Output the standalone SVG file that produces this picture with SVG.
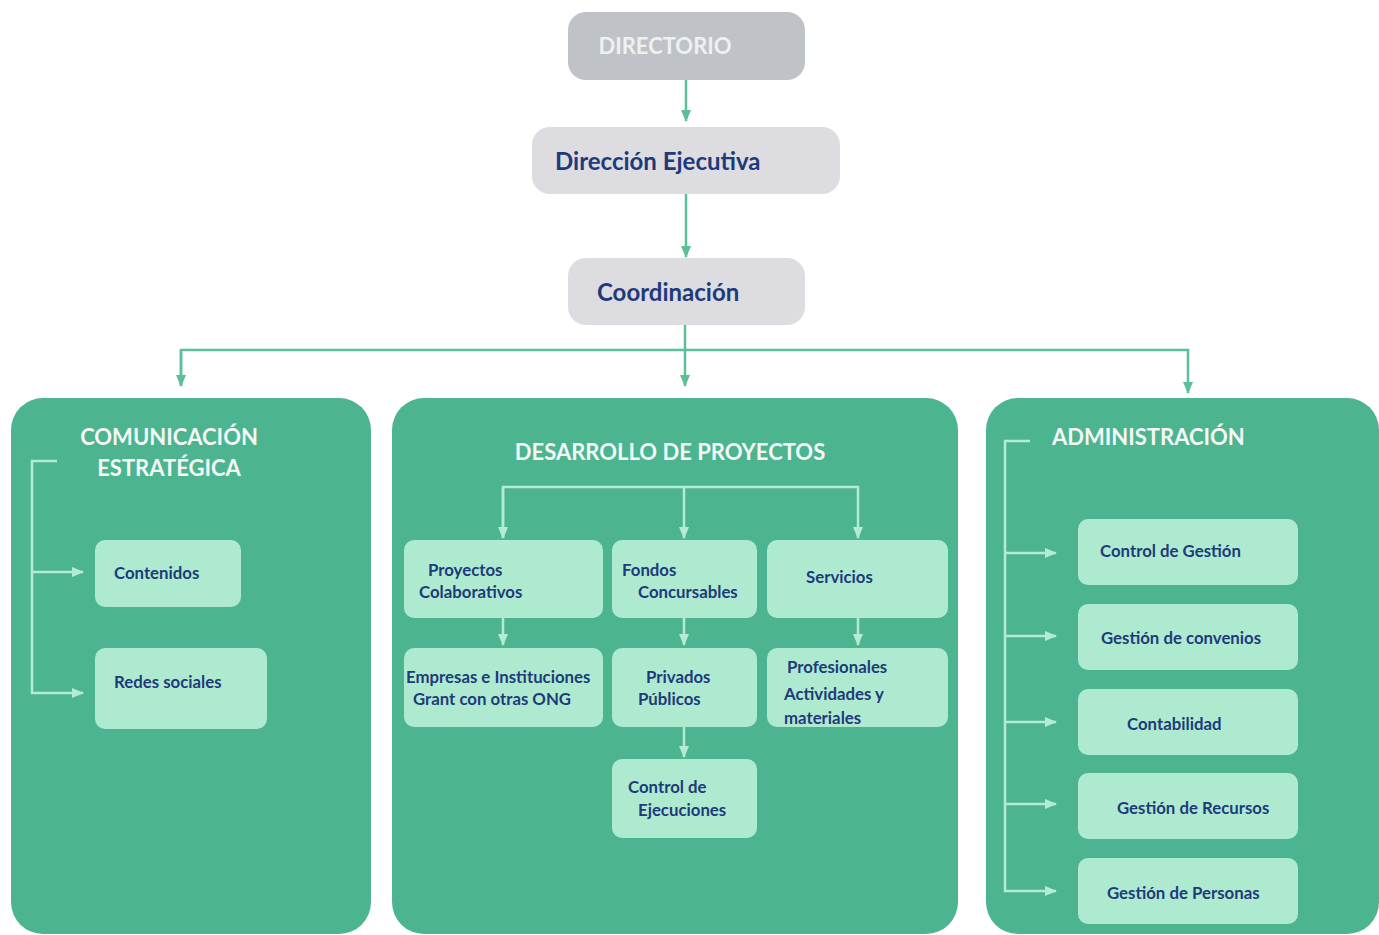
<svg xmlns="http://www.w3.org/2000/svg" width="1379" height="935" viewBox="0 0 1379 935">
<defs>
<marker id="ah" viewBox="0 0 12 10" refX="11" refY="5" markerWidth="12" markerHeight="10" markerUnits="userSpaceOnUse" orient="auto"><path d="M0,0 L12,5 L0,10 Z" fill="#5cbf97"/></marker>
<marker id="al" viewBox="0 0 12 10" refX="11" refY="5" markerWidth="12" markerHeight="10" markerUnits="userSpaceOnUse" orient="auto"><path d="M0,0 L12,5 L0,10 Z" fill="#b4ecd3"/></marker>
<style>
.panel{fill:#4cb590}
.box{fill:#aeead0}
.g1{fill:#bfc3c7}
.g2{fill:#dcdce1}
.t{font-family:Lato,"Open Sans","Liberation Sans",sans-serif;font-weight:700;fill:#1e3a7a;font-size:16.8px}
.big{font-family:Lato,"Open Sans","Liberation Sans",sans-serif;font-weight:700;fill:#1e3a7a;font-size:24px}
.ht{font-family:Lato,"Open Sans","Liberation Sans",sans-serif;font-weight:700;fill:#f4f7f6;font-size:22px}
.c{fill:none;stroke:#5cbf97;stroke-width:2.5}
.cl{fill:none;stroke:#b4ecd3;stroke-width:2.5}
</style>
</defs>
<rect width="1379" height="935" fill="#ffffff"/>

<g id="directorio"><rect class="g1" x="568" y="12" width="237" height="68" rx="18"/><text class="ht" x="665" y="54" text-anchor="middle" font-size="21" style="fill:#eef0f2">DIRECTORIO</text></g>
<g id="direccion"><rect class="g2" x="532" y="127" width="308" height="67" rx="18"/><text class="big" x="555" y="170">Dirección Ejecutiva</text></g>
<g id="coordinacion"><rect class="g2" x="568" y="258" width="237" height="67" rx="18"/><text class="big" x="597" y="301">Coordinación</text></g>

<g id="comunicacion">
<rect class="panel" x="11" y="398" width="360" height="536" rx="32"/>
<text class="ht" x="169" y="445" text-anchor="middle">COMUNICACIÓN</text>
<text class="ht" x="169" y="476" text-anchor="middle">ESTRATÉGICA</text>
</g>
<g id="contenidos"><rect class="box" x="95" y="540" width="146" height="67" rx="10"/><text class="t" x="114" y="579">Contenidos</text></g>
<g id="redes"><rect class="box" x="95" y="648" width="172" height="81" rx="10"/><text class="t" x="114" y="688">Redes sociales</text></g>

<g id="desarrollo">
<rect class="panel" x="392" y="398" width="566" height="536" rx="32"/>
<text class="ht" x="670" y="460" text-anchor="middle">DESARROLLO DE PROYECTOS</text>
</g>
<g id="proyectos"><rect class="box" x="404" y="540" width="199" height="78" rx="10"/><text class="t" x="428" y="576">Proyectos</text><text class="t" x="419" y="598">Colaborativos</text></g>
<g id="fondos"><rect class="box" x="612" y="540" width="145" height="78" rx="10"/><text class="t" x="622" y="576">Fondos</text><text class="t" x="638" y="598">Concursables</text></g>
<g id="servicios"><rect class="box" x="767" y="540" width="181" height="78" rx="10"/><text class="t" x="806" y="583">Servicios</text></g>
<g id="empresas"><rect class="box" x="404" y="648" width="199" height="79" rx="10"/><text class="t" x="406" y="683">Empresas e Instituciones</text><text class="t" x="413" y="705">Grant con otras ONG</text></g>
<g id="privados"><rect class="box" x="612" y="648" width="145" height="79" rx="10"/><text class="t" x="646" y="683">Privados</text><text class="t" x="638" y="705">Públicos</text></g>
<g id="profesionales"><rect class="box" x="767" y="648" width="181" height="79" rx="10"/><text class="t" x="787" y="673">Profesionales</text><text class="t" x="784" y="700">Actividades y</text><text class="t" x="784" y="724">materiales</text></g>
<g id="control-ejecuciones"><rect class="box" x="612" y="759" width="145" height="79" rx="10"/><text class="t" x="628" y="793">Control de</text><text class="t" x="638" y="816">Ejecuciones</text></g>

<g id="administracion">
<rect class="panel" x="986" y="398" width="393" height="536" rx="32"/>
<text class="ht" x="1052" y="445">ADMINISTRACIÓN</text>
</g>
<g id="control-gestion"><rect class="box" x="1078" y="519" width="220" height="66" rx="10"/><text class="t" x="1100" y="557">Control de Gestión</text></g>
<g id="convenios"><rect class="box" x="1078" y="604" width="220" height="66" rx="10"/><text class="t" x="1101" y="644">Gestión de convenios</text></g>
<g id="contabilidad"><rect class="box" x="1078" y="689" width="220" height="66" rx="10"/><text class="t" x="1127" y="730">Contabilidad</text></g>
<g id="recursos"><rect class="box" x="1078" y="773" width="220" height="66" rx="10"/><text class="t" x="1117" y="814">Gestión de Recursos</text></g>
<g id="personas"><rect class="box" x="1078" y="858" width="220" height="66" rx="10"/><text class="t" x="1107" y="899">Gestión de Personas</text></g>

<g id="connectors">
<path class="c" d="M686,80 V121" marker-end="url(#ah)"/>
<path class="c" d="M686,194 V257" marker-end="url(#ah)"/>
<path class="c" d="M685,325 V386" marker-end="url(#ah)"/>
<path class="c" d="M181,386 V350 H1188 V393" marker-end="url(#ah)"/>
<path class="c" d="M181,350 V386" marker-end="url(#ah)"/>
<path class="cl" d="M57,461 H32 V693 H83" marker-end="url(#al)"/>
<path class="cl" d="M32,572 H83" marker-end="url(#al)"/>
<path class="cl" d="M503,538 V487 H858 V538" marker-end="url(#al)"/>
<path class="cl" d="M503,487 V538" marker-end="url(#al)"/>
<path class="cl" d="M684,487 V538" marker-end="url(#al)"/>
<path class="cl" d="M503,618 V645" marker-end="url(#al)"/>
<path class="cl" d="M684,618 V645" marker-end="url(#al)"/>
<path class="cl" d="M858,618 V645" marker-end="url(#al)"/>
<path class="cl" d="M684,727 V757" marker-end="url(#al)"/>
<path class="cl" d="M1030,441 H1005 V891 H1056" marker-end="url(#al)"/>
<path class="cl" d="M1005,553 H1056" marker-end="url(#al)"/>
<path class="cl" d="M1005,636 H1056" marker-end="url(#al)"/>
<path class="cl" d="M1005,722 H1056" marker-end="url(#al)"/>
<path class="cl" d="M1005,804 H1056" marker-end="url(#al)"/>
</g>
</svg>
